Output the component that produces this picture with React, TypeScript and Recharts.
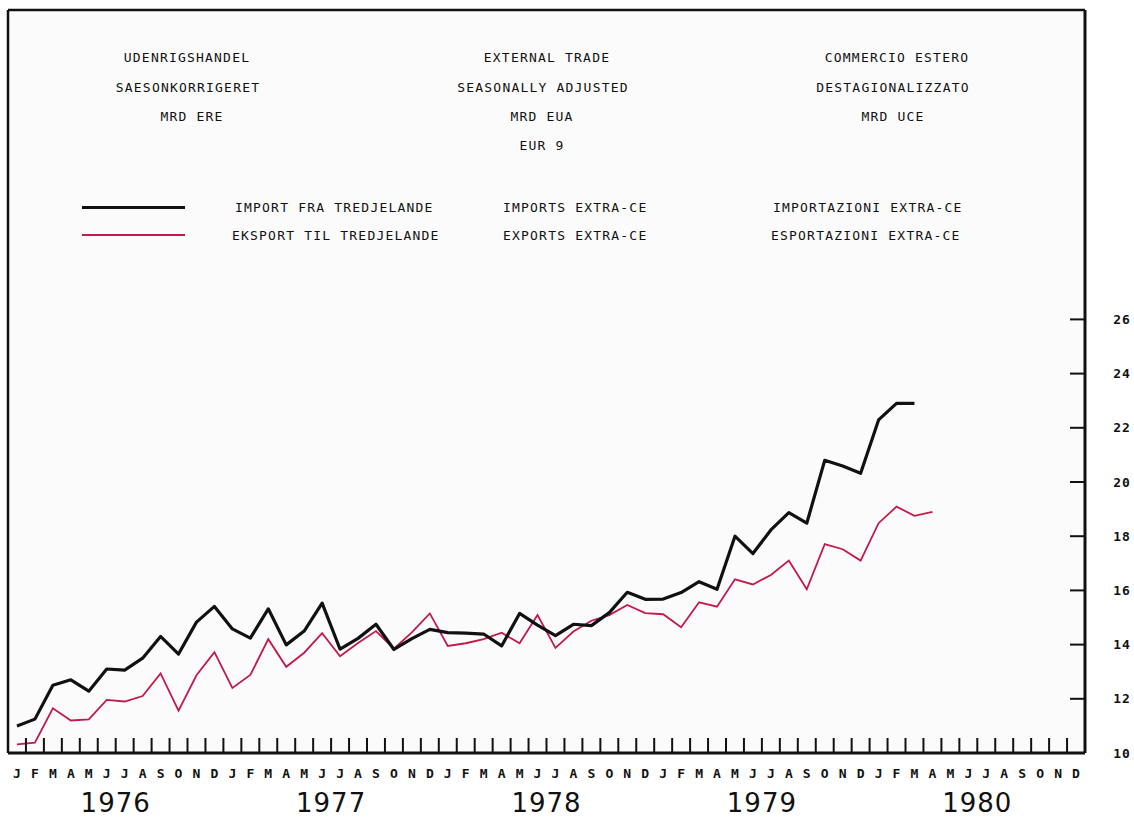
import { LineChart, Line, XAxis, YAxis } from 'recharts';

// monthly values, Jan 1976 .. Dec 1980 (Mrd EUA)
const months = ['J', 'F', 'M', 'A', 'M', 'J', 'J', 'A', 'S', 'O', 'N', 'D'];
const years = ['1976', '1977', '1978', '1979', '1980'];

const imports = [
  11.0, 11.25, 12.5, 12.7, 12.28, 13.1, 13.06, 13.5, 14.3, 13.65, 14.83, 15.41,
  14.58, 14.24, 15.32, 13.99, 14.5, 15.53, 13.83, 14.23, 14.75, 13.82, 14.22, 14.56,
  14.44, 14.42, 14.39, 13.95, 15.15, 14.72, 14.33, 14.75, 14.7, 15.18, 15.93, 15.67,
  15.68, 15.92, 16.32, 16.04, 18.0, 17.36, 18.23, 18.87, 18.48, 20.8, 20.59, 20.32,
  22.29, 22.9, 22.9,
];

const exports = [
  10.32, 10.38, 11.65, 11.2, 11.24, 11.96, 11.9, 12.1, 12.94, 11.56, 12.87, 13.72,
  12.4, 12.88, 14.2, 13.18, 13.7, 14.42, 13.57, 14.06, 14.5, 13.85, 14.45, 15.15,
  13.95, 14.05, 14.2, 14.44, 14.05, 15.09, 13.88, 14.48, 14.88, 15.09, 15.46, 15.16,
  15.12, 14.64, 15.56, 15.4, 16.41, 16.22, 16.57, 17.1, 16.04, 17.71, 17.52, 17.1,
  18.48, 19.09, 18.75, 18.9,
];

const yTicks = [10, 12, 14, 16, 18, 20, 22, 24, 26];

const data = years.flatMap((yr, yi) =>
  months.map((m, mi) => {
    const i = yi * 12 + mi;
    return {
      key: `${yr}-${mi}`,
      month: m,
      year: yr,
      imp: imports[i] ?? null,
      exp: exports[i] ?? null,
    };
  })
);

const W = 1134;
const H = 825;
const PLOT_LEFT = 8;
const PLOT_RIGHT = 1085;
const AXIS_Y = 753;
const BAND = (PLOT_RIGHT - PLOT_LEFT) / data.length;

const INK = '#111';
const RED = '#c21a4b';
const mono = '"DejaVu Sans Mono", monospace';

const MonthTick = ({ x, y, payload, index }: any) => {
  const row = data[index];
  return (
    <g>
      {index > 0 && (
        <line x1={x - BAND / 2} x2={x - BAND / 2} y1={y} y2={y - 15} stroke={INK} strokeWidth={2} />
      )}
      <text x={x} y={y + 20} textAnchor="middle" dominantBaseline="central"
        fontFamily={mono} fontSize={13} fontWeight="bold" fill={INK}>
        {row ? row.month : payload.value}
      </text>
      {index % 12 === 5 && row && (
        <text x={x + BAND / 2} y={y + 50} textAnchor="middle" dominantBaseline="central"
          fontFamily='"DejaVu Sans", sans-serif' fontSize={26} fill={INK} letterSpacing={1}>
          {row.year}
        </text>
      )}
    </g>
  );
};

const ValueTick = ({ x, y, payload }: any) => (
  <g>
    <line x1={x - 15} x2={x} y1={y} y2={y} stroke={INK} strokeWidth={2} />
    <text x={x + 37} y={y} textAnchor="middle" dominantBaseline="central"
      fontFamily={mono} fontSize={13} fontWeight="bold" fill={INK} letterSpacing={1}>
      {payload.value}
    </text>
  </g>
);

const titles = [
  { t: 'UDENRIGSHANDEL', x: 187, y: 57 },
  { t: 'SAESONKORRIGERET', x: 188, y: 87 },
  { t: 'MRD ERE', x: 192, y: 116 },
  { t: 'EXTERNAL TRADE', x: 547, y: 57 },
  { t: 'SEASONALLY ADJUSTED', x: 543, y: 87 },
  { t: 'MRD EUA', x: 542, y: 116 },
  { t: 'EUR 9', x: 542, y: 145 },
  { t: 'COMMERCIO ESTERO', x: 897, y: 57 },
  { t: 'DESTAGIONALIZZATO', x: 893, y: 87 },
  { t: 'MRD UCE', x: 893, y: 116 },
];

const legendRows = [
  { color: INK, w: 3, y: 207, labels: [['IMPORT FRA TREDJELANDE', 235], ['IMPORTS EXTRA-CE', 503], ['IMPORTAZIONI EXTRA-CE', 773]] },
  { color: RED, w: 2, y: 235, labels: [['EKSPORT TIL TREDJELANDE', 232], ['EXPORTS EXTRA-CE', 503], ['ESPORTAZIONI EXTRA-CE', 771]] },
];

const textStyle: React.CSSProperties = {
  position: 'absolute',
  fontFamily: mono,
  fontSize: 13,
  letterSpacing: 1.2,
  color: INK,
  whiteSpace: 'nowrap',
  lineHeight: '15px',
};

export default function App() {
  const yMax = 10 + (AXIS_Y - 10) / 27.1;
  return (
    <div style={{ position: 'absolute', left: 0, top: 0, width: W, height: H, background: '#fff' }}>
      <div style={{ position: 'absolute', left: PLOT_LEFT, top: 10, width: PLOT_RIGHT - PLOT_LEFT, height: AXIS_Y - 10, background: '#fbfbfb' }} />
      <LineChart width={W} height={H} data={data} margin={{ top: 0, right: 0, bottom: 0, left: 0 }}>
        <XAxis xAxisId="top" orientation="top" dataKey="key" height={10} tick={false} tickLine={false}
          axisLine={{ stroke: INK, strokeWidth: 2.5 }} padding={{ left: BAND / 2, right: BAND / 2 }} />
        <XAxis dataKey="key" height={H - AXIS_Y} interval={0} tickSize={0} tickMargin={0} tickLine={false}
          tick={<MonthTick />} axisLine={{ stroke: INK, strokeWidth: 3 }}
          padding={{ left: BAND / 2, right: BAND / 2 }} />
        <YAxis yAxisId="left" orientation="left" width={PLOT_LEFT} domain={[10, yMax]} allowDataOverflow
          tick={false} tickLine={false} axisLine={{ stroke: INK, strokeWidth: 2.5 }} />
        <YAxis yAxisId="right" orientation="right" width={W - PLOT_RIGHT} domain={[10, yMax]} allowDataOverflow
          ticks={yTicks} interval={0} tickSize={0} tickMargin={0} tickLine={false}
          tick={<ValueTick />} axisLine={{ stroke: INK, strokeWidth: 3 }} />
        <Line yAxisId="right" dataKey="exp" type="linear" stroke={RED} strokeWidth={1.8} dot={false}
          isAnimationActive={false} connectNulls={false} />
        <Line yAxisId="right" dataKey="imp" type="linear" stroke={INK} strokeWidth={3.2} dot={false}
          strokeLinejoin="round" isAnimationActive={false} connectNulls={false} />
      </LineChart>

      {titles.map((d) => (
        <div key={d.t} style={{ ...textStyle, left: d.x, top: d.y, transform: 'translate(-50%, -50%)' }}>{d.t}</div>
      ))}

      {legendRows.map((r) => (
        <div key={r.y}>
          <div style={{ position: 'absolute', left: 82, top: r.y - r.w / 2, width: 103, height: r.w, background: r.color }} />
          {r.labels.map(([t, x]) => (
            <div key={t as string} style={{ ...textStyle, left: x as number, top: r.y, transform: 'translateY(-50%)' }}>{t}</div>
          ))}
        </div>
      ))}
    </div>
  );
}
